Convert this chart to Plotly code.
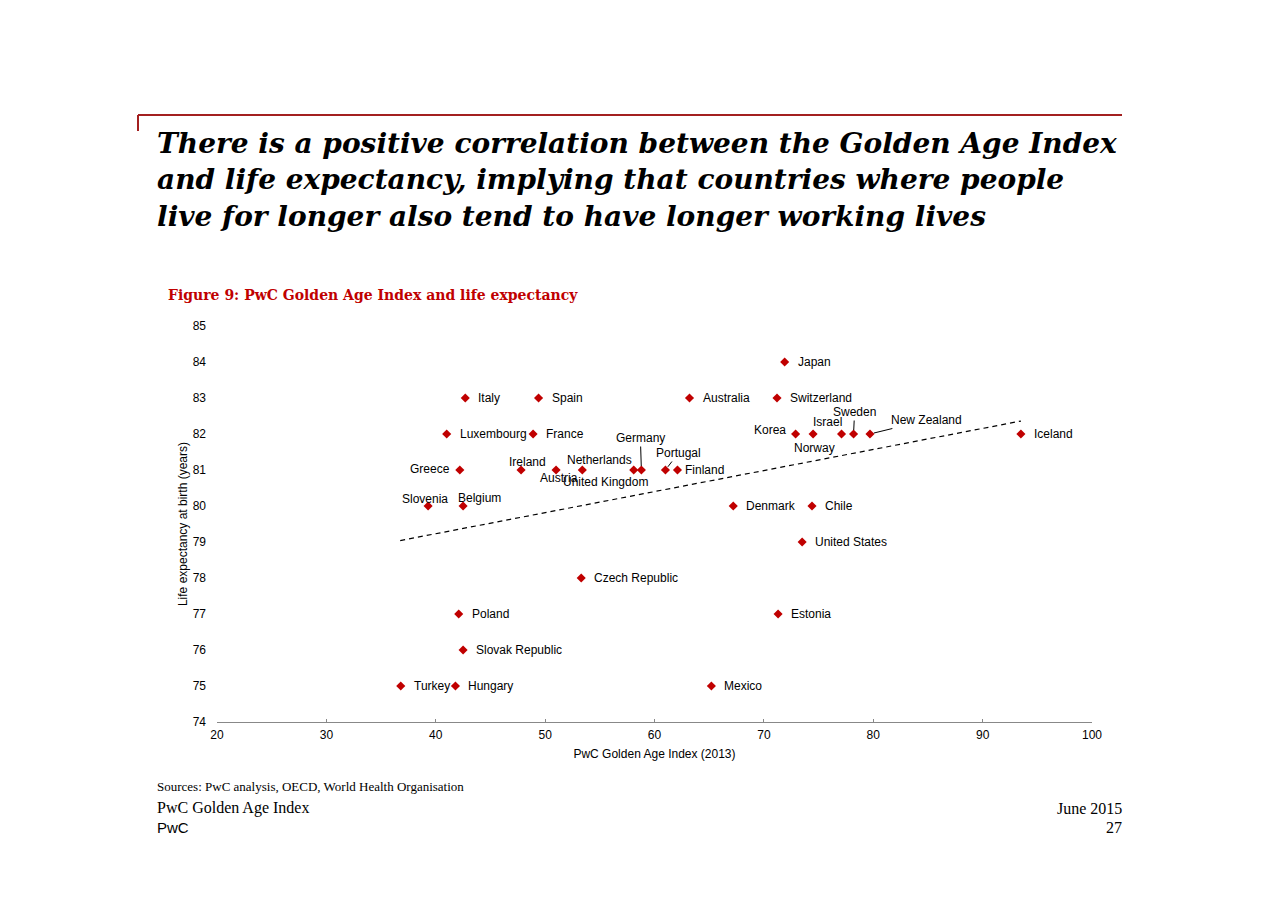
import plotly.graph_objects as go

# PwC Golden Age Index (2013) vs life expectancy at birth
countries = ["Japan", "Italy", "Spain", "Australia", "Switzerland",
             "Luxembourg", "France", "Korea", "Norway", "Israel", "Sweden",
             "New Zealand", "Iceland", "Greece", "Ireland", "Austria",
             "Netherlands", "United Kingdom", "Germany", "Portugal", "Finland",
             "Slovenia", "Belgium", "Denmark", "Chile", "United States",
             "Czech Republic", "Poland", "Estonia", "Slovak Republic",
             "Turkey", "Hungary", "Mexico"]
gai_index = [71.9, 42.7, 49.4, 63.2, 71.2,
             41.0, 48.9, 72.9, 74.5, 77.1, 78.2,
             79.7, 93.5, 42.2, 47.8, 51.0,
             53.4, 58.1, 58.8, 61.0, 62.1,
             39.3, 42.5, 67.2, 74.4, 73.5,
             53.3, 42.1, 71.3, 42.5,
             36.8, 41.8, 65.2]
life_exp = [84, 83, 83, 83, 83,
            82, 82, 82, 82, 82, 82,
            82, 82, 81, 81, 81,
            81, 81, 81, 81, 81,
            80, 80, 80, 80, 79,
            78, 77, 77, 76,
            75, 75, 75]
trend_x = [36.75, 93.5]
trend_y = [79.04, 82.36]

W, H = 1280, 905
OFF = 8                            # page body margin in the browser
L, R, T, B = 217, 1092, 326, 722   # plot area as seen on the page
RED = "#c00000"
SANS = "Liberation Sans, Arial, sans-serif"
SERIF = "Liberation Serif, Georgia, serif"
HEAD = "DejaVu Serif, Georgia, serif"


def px(x):
    return (x - L) / (R - L)


def py(y):
    return (B - y) / (B - T)


fig = go.Figure()

fig.add_trace(go.Scatter(x=trend_x, y=trend_y, mode="lines",
                         line=dict(color="black", width=1.2, dash="5px,4px"),
                         hoverinfo="skip", showlegend=False))
fig.add_trace(go.Scatter(x=gai_index, y=life_exp, mode="markers", text=countries,
                         marker=dict(symbol="diamond", size=7, color=RED),
                         showlegend=False))

# label placement (pixels)
label_pos = {
    "Greece": dict(xanchor="right", xshift=-8, yshift=1),
    "Ireland": dict(xanchor="center", xshift=6, yshift=8),
    "Austria": dict(xanchor="center", xshift=3, yshift=-8),
    "Netherlands": dict(xanchor="center", xshift=17, yshift=10),
    "United Kingdom": dict(xanchor="center", xshift=-28, yshift=-12),
    "Slovenia": dict(xanchor="center", xshift=-3, yshift=7),
    "Belgium": dict(xanchor="center", xshift=16, yshift=8),
    "Korea": dict(xanchor="right", xshift=-8, yshift=4),
    "Norway": dict(xanchor="center", xshift=1, yshift=-14),
    "Israel": dict(xanchor="center", xshift=-14, yshift=12),
    "Finland": dict(xanchor="left", xshift=6, yshift=0),
}
leader_pos = {
    "Germany": (-1, -32),
    "Portugal": (13, -17),
    "Sweden": (1, -22),
    "New Zealand": (57, -14),
}

for c, xv, yv in zip(countries, gai_index, life_exp):
    if c in leader_pos:
        ax, ay = leader_pos[c]
        fig.add_annotation(x=xv, y=yv, text=c, showarrow=True, ax=ax, ay=ay,
                           arrowhead=0, arrowwidth=1, arrowcolor="black", standoff=4,
                           font=dict(family=SANS, size=12, color="black"))
    else:
        p = label_pos.get(c, dict(xanchor="left", xshift=11, yshift=0))
        fig.add_annotation(x=xv, y=yv, text=c, showarrow=False, yanchor="middle",
                           font=dict(family=SANS, size=12, color="black"), **p)

# heading block
title_lines = ["There is a positive correlation between the Golden Age Index",
               "and life expectancy, implying that countries where people",
               "live for longer also tend to have longer working lives"]
for i, line in enumerate(title_lines):
    fig.add_annotation(xref="paper", yref="paper", x=px(155), y=py(143 + i * 36.5),
                       xanchor="left", yanchor="middle", showarrow=False,
                       text="<b><i>" + line + "</i></b>",
                       font=dict(family=HEAD, size=28, color="black"))

fig.add_shape(type="line", xref="paper", yref="paper", x0=px(138), x1=px(1122),
              y0=py(115), y1=py(115), line=dict(color="#a32020", width=2))
fig.add_shape(type="line", xref="paper", yref="paper", x0=px(138), x1=px(138),
              y0=py(115), y1=py(131), line=dict(color="#a32020", width=2))

fig.add_annotation(xref="paper", yref="paper", x=px(166), y=py(295),
                   xanchor="left", yanchor="middle", showarrow=False,
                   text="<b>Figure 9: PwC Golden Age Index and life expectancy</b>",
                   font=dict(family=HEAD, size=14, color=RED))

# footer
footer = [
    ("Sources: PwC analysis, OECD, World Health Organisation", 155, 786, "left", SERIF, 13),
    ("PwC Golden Age Index", 155, 808, "left", SERIF, 16),
    ("PwC", 155, 827, "left", SANS, 15),
    ("June 2015", 1124, 808, "right", SERIF, 16),
    ("27", 1124, 827, "right", SERIF, 16),
]
for txt, fx, fy, anc, fam, sz in footer:
    fig.add_annotation(xref="paper", yref="paper", x=px(fx), y=py(fy),
                       xanchor=anc, yanchor="middle", showarrow=False, text=txt,
                       font=dict(family=fam, size=sz, color="black"))

fig.update_layout(
    width=W, height=H,
    margin=dict(l=L - OFF, r=W - R + OFF, t=T - OFF, b=H - B + OFF),
    plot_bgcolor="white", paper_bgcolor="white",
    font=dict(family=SANS, size=12, color="black"),
    xaxis=dict(range=[20, 100], dtick=10, showgrid=False, zeroline=False,
               showline=True, linecolor="#888888", linewidth=1,
               ticks="inside", ticklen=3, tickcolor="#888888",
               tickfont=dict(size=12), ticklabelstandoff=2,
               title=dict(text="PwC Golden Age Index (2013)", font=dict(size=12), standoff=8)),
    yaxis=dict(range=[74, 85], dtick=1, showgrid=False, zeroline=False,
               showline=False, ticks="", tickfont=dict(size=12), ticklabelstandoff=10,
               title=dict(text="Life expectancy at birth (years)", font=dict(size=12), standoff=2)),
)

fig.write_html("out.html")
